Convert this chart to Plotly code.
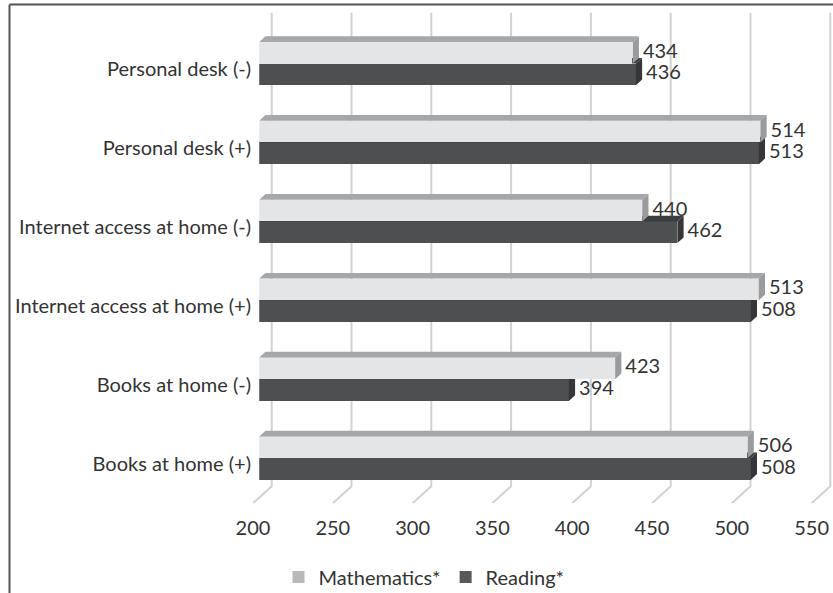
import plotly.graph_objects as go

# ---- data -------------------------------------------------------------
categories = [
    "Personal desk (-)",
    "Personal desk (+)",
    "Internet access at home (-)",
    "Internet access at home (+)",
    "Books at home (-)",
    "Books at home (+)",
]
mathematics = [434, 514, 440, 513, 423, 506]
reading = [436, 513, 462, 508, 394, 508]
x_ticks = [200, 250, 300, 350, 400, 450, 500, 550]
series_names = ["Mathematics*", "Reading*"]

# ---- geometry of the pseudo-3D box (pixels) ---------------------------
W, H = 833, 593
X_MIN, X_MAX = 200, 550
FX0 = 253.0        # left edge of the floor front
SX = 1.596         # px per value unit
SY = 78.9          # px per category
FY_BOT = 503.2     # bottom edge of the floor front
DPX, DPY = 18.7, 17.0   # full depth of the box (right / up)
BAR_W = 0.275      # bar thickness in category units
LABEL_PAD = 4      # px between a bar's side face and its value label

n = len(categories)
pos = [n - 1 - k for k in range(n)]  # first category on top

DX = DPX / SX
DY = DPY / SY
bdx, bdy = DX / 3, DY / 3           # depth of a single bar

FONT = "Lato"
FS = 20
TXT = "#333333"
GRID = "#d2d2d2"

# floor plane axis (labels, back wall, floor)
dom1_x = [FX0 / W, 1]
dom1_y = [(H - FY_BOT) / H, 1]
rng1_x = [X_MIN, X_MIN + (W - FX0) / SX]
rng1_y = [-0.5, -0.5 + FY_BOT / SY]

# bar front plane (one third into the box)
bfx = FX0 + DPX / 3
bfy = FY_BOT - DPY / 3
dom2_x = [bfx / W, 1]
dom2_y = [(H - bfy) / H, 1]
rng2_x = [X_MIN, X_MIN + (W - bfx) / SX]
rng2_y = [-0.5, -0.5 + bfy / SY]

fig = go.Figure()

# back-wall gridlines and floor diagonals
gx, gy = [], []
for v in x_ticks:
    gx += [v, v + DX, v + DX, None]
    gy += [-0.5, -0.5 + DY, n - 0.5 + DY, None]
fig.add_trace(go.Scatter(x=gx, y=gy, mode="lines", line=dict(color=GRID, width=2),
                         hoverinfo="skip", showlegend=False, xaxis="x", yaxis="y"))


def add_series(vals, offset, front, top, side, xa, ya, name):
    # front faces
    fig.add_trace(go.Bar(
        x=vals, y=pos, orientation="h", width=BAR_W, offset=offset,
        marker=dict(color=front, line=dict(width=0)), name=name,
        showlegend=False, xaxis=xa, yaxis=ya,
        hovertemplate="%{x}<extra>" + name + "</extra>",
    ))
    tx, ty, sx_, sy_ = [], [], [], []
    for v, p in zip(vals, pos):
        yb = p + offset
        yt = yb + BAR_W
        tx += [X_MIN, v, v + bdx, X_MIN + bdx, X_MIN, None]
        ty += [yt, yt, yt + bdy, yt + bdy, yt, None]
        sx_ += [v, v + bdx, v + bdx, v, v, None]
        sy_ += [yb, yb + bdy, yt + bdy, yt, yb, None]
    fig.add_trace(go.Scatter(x=tx, y=ty, mode="lines", fill="toself", fillcolor=top,
                             line=dict(width=0), hoverinfo="skip", showlegend=False,
                             xaxis=xa, yaxis=ya))
    fig.add_trace(go.Scatter(x=sx_, y=sy_, mode="lines", fill="toself", fillcolor=side,
                             line=dict(width=0), hoverinfo="skip", showlegend=False,
                             xaxis=xa, yaxis=ya))
    # value labels
    fig.add_trace(go.Scatter(
        x=[v + bdx + LABEL_PAD / SX for v in vals],
        y=[p + offset + BAR_W / 2 for p in pos],
        mode="text", text=[str(v) for v in vals], textposition="middle right",
        textfont=dict(family=FONT, size=FS, color=TXT),
        hoverinfo="skip", showlegend=False, xaxis=xa, yaxis=ya,
    ))


# reading drawn first (lower bar), mathematics on a layer above it
add_series(reading, -BAR_W, "#4e4f51", "#3c3d3f", "#363638", "x2", "y2", series_names[1])
add_series(mathematics, 0.0, "#e4e5e7", "#a6a7a9", "#9a9b9d", "x3", "y3", series_names[0])

# legend entries
fig.add_trace(go.Bar(x=[None], y=[None], name=series_names[0], marker_color="#b8b9bb",
                     xaxis="x", yaxis="y"))
fig.add_trace(go.Bar(x=[None], y=[None], name=series_names[1], marker_color="#58595b",
                     xaxis="x", yaxis="y"))

hidden = dict(visible=False, showgrid=False, zeroline=False, automargin=False)
fig.update_layout(
    template="none",
    width=W, height=H,
    margin=dict(l=0, r=0, t=0, b=0, autoexpand=False),
    paper_bgcolor="white", plot_bgcolor="rgba(0,0,0,0)",
    font=dict(family=FONT, size=FS, color=TXT),
    bargap=0,
    xaxis=dict(domain=dom1_x, range=rng1_x, tickvals=x_ticks, ticks="",
               ticklabelstandoff=11,
               showgrid=False, zeroline=False, showline=False, fixedrange=True,
               automargin=False, tickfont=dict(size=FS, color=TXT)),
    yaxis=dict(domain=dom1_y, range=rng1_y, tickvals=pos, ticktext=categories,
               ticks="", ticklabelstandoff=1, showgrid=False, zeroline=False,
               showline=False, fixedrange=True, automargin=False,
               tickfont=dict(size=FS, color=TXT)),
    xaxis2=dict(domain=dom2_x, range=rng2_x, anchor="y2", **hidden),
    yaxis2=dict(domain=dom2_y, range=rng2_y, anchor="x2", **hidden),
    xaxis3=dict(domain=dom2_x, range=rng2_x, anchor="y3", **hidden),
    yaxis3=dict(domain=dom2_y, range=rng2_y, anchor="x3", **hidden),
    legend=dict(orientation="h", x=424 / W, xanchor="center", y=1 - 577 / H,
                yanchor="middle", font=dict(size=FS, color=TXT), itemwidth=30,
                bgcolor="rgba(0,0,0,0)"),
    shapes=[
        dict(type="line", xref="paper", yref="paper", x0=9.5 / W, x1=9.5 / W,
             y0=-0.05, y1=1 - 4.5 / H, line=dict(color="#555555", width=2)),
        dict(type="line", xref="paper", yref="paper", x0=9.5 / W, x1=1.05,
             y0=1 - 4.5 / H, y1=1 - 4.5 / H, line=dict(color="#555555", width=2)),
    ],
)

fig.write_html("out.html")
